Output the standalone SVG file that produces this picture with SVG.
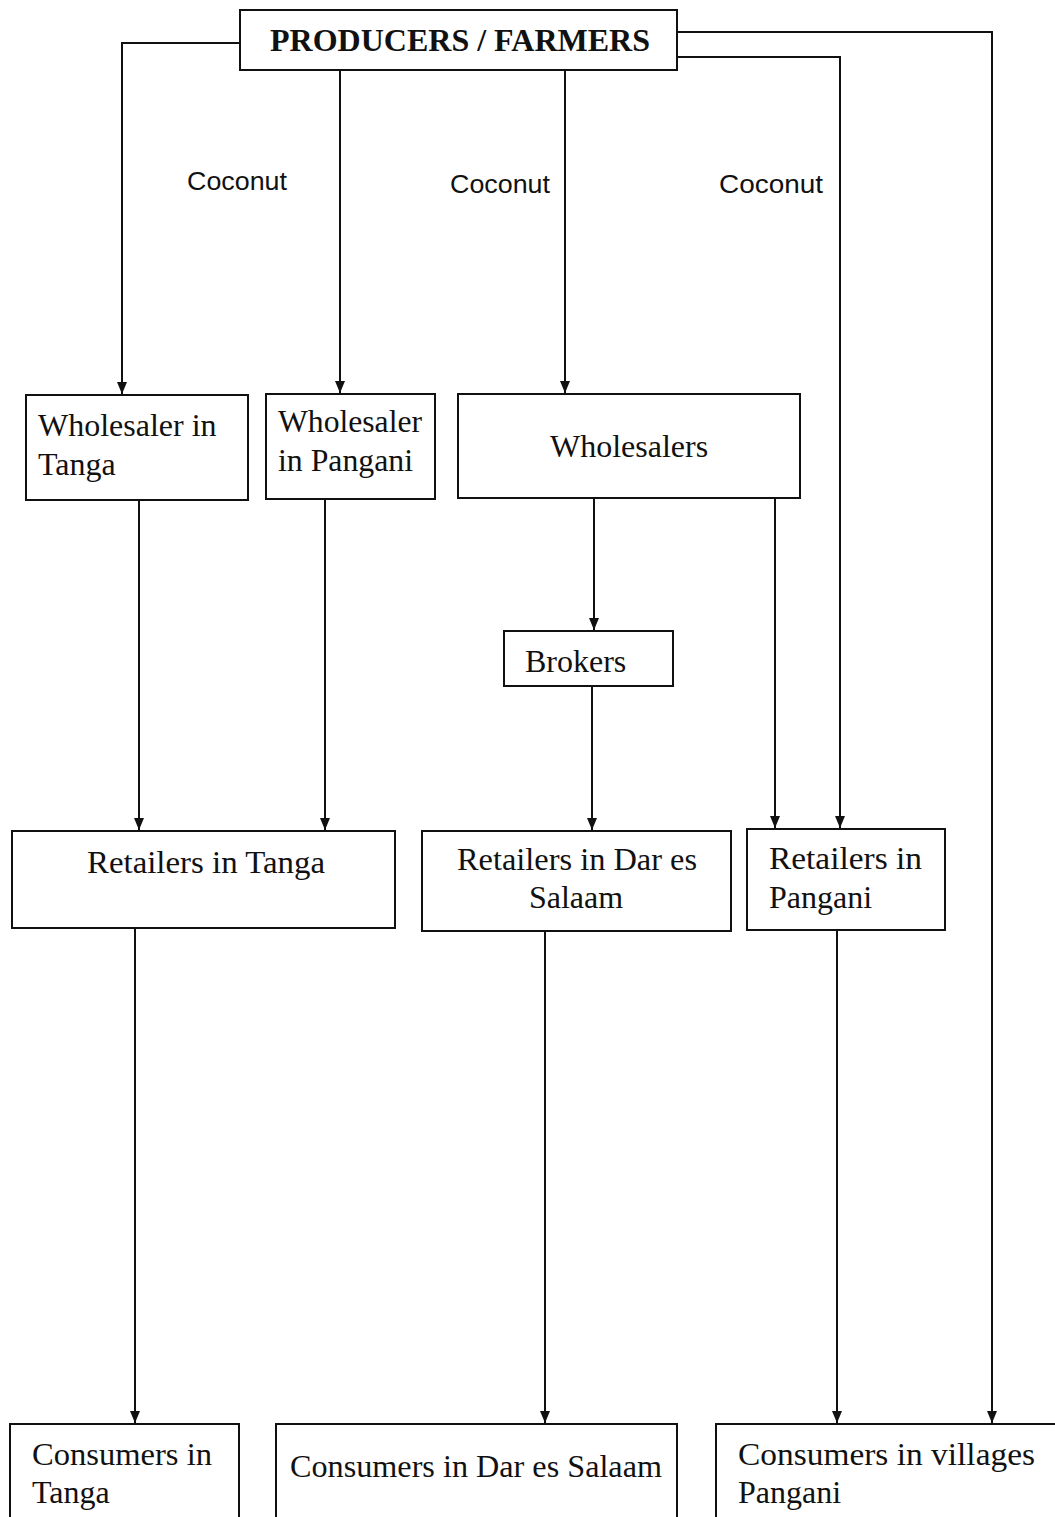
<svg xmlns="http://www.w3.org/2000/svg" width="1055" height="1517" viewBox="0 0 1055 1517">
<style>
.box{fill:#fff;stroke:#111;stroke-width:2}
.t{font-family:"Liberation Serif","Times New Roman",serif;font-size:32px;fill:#111}
.b{font-family:"Liberation Serif","Times New Roman",serif;font-size:31px;font-weight:bold;fill:#111}
.s{font-family:"Liberation Sans",Arial,sans-serif;font-size:26px;fill:#111}
.c{fill:none;stroke:#111;stroke-width:2}
</style>
<defs>
<marker id="ah" viewBox="0 0 12 10" refX="12" refY="5" markerWidth="12" markerHeight="10" markerUnits="userSpaceOnUse" orient="auto">
<path d="M0,0 L12,5 L0,10 Z" fill="#111"/>
</marker>
</defs>
<rect width="1055" height="1517" fill="#fff"/>
<g id="connectors">
<polyline class="c" points="240,43 122,43 122,394" marker-end="url(#ah)"/>
<line class="c" x1="340" y1="70" x2="340" y2="393" marker-end="url(#ah)"/>
<line class="c" x1="565" y1="70" x2="565" y2="393" marker-end="url(#ah)"/>
<polyline class="c" points="677,32 992,32 992,1423" marker-end="url(#ah)"/>
<polyline class="c" points="677,57 840,57 840,828" marker-end="url(#ah)"/>
<line class="c" x1="139" y1="500" x2="139" y2="830" marker-end="url(#ah)"/>
<line class="c" x1="325" y1="499" x2="325" y2="830" marker-end="url(#ah)"/>
<line class="c" x1="594" y1="498" x2="594" y2="630" marker-end="url(#ah)"/>
<line class="c" x1="775" y1="498" x2="775" y2="828" marker-end="url(#ah)"/>
<line class="c" x1="592" y1="686" x2="592" y2="830" marker-end="url(#ah)"/>
<line class="c" x1="135" y1="928" x2="135" y2="1423" marker-end="url(#ah)"/>
<line class="c" x1="545" y1="931" x2="545" y2="1423" marker-end="url(#ah)"/>
<line class="c" x1="837" y1="930" x2="837" y2="1423" marker-end="url(#ah)"/>
<text class="s" x="237" y="190" text-anchor="middle" textLength="100" lengthAdjust="spacingAndGlyphs">Coconut</text>
<text class="s" x="500" y="193" text-anchor="middle" textLength="100" lengthAdjust="spacingAndGlyphs">Coconut</text>
<text class="s" x="771" y="193" text-anchor="middle" textLength="104" lengthAdjust="spacingAndGlyphs">Coconut</text>
</g>
<g id="producers">
<rect class="box" x="240" y="10" width="437" height="60"/>
<text class="b" x="460" y="51" text-anchor="middle" textLength="380" lengthAdjust="spacingAndGlyphs">PRODUCERS / FARMERS</text>
</g>
<g id="wholesaler-tanga">
<rect class="box" x="26" y="395" width="222" height="105"/>
<text class="t" x="38" y="436">Wholesaler in</text>
<text class="t" x="38" y="475">Tanga</text>
</g>
<g id="wholesaler-pangani">
<rect class="box" x="266" y="394" width="169" height="105"/>
<text class="t" x="278" y="432" textLength="144" lengthAdjust="spacingAndGlyphs">Wholesaler</text>
<text class="t" x="278" y="471" textLength="135" lengthAdjust="spacingAndGlyphs">in Pangani</text>
</g>
<g id="wholesalers">
<rect class="box" x="458" y="394" width="342" height="104"/>
<text class="t" x="629" y="457" text-anchor="middle">Wholesalers</text>
</g>
<g id="brokers">
<rect class="box" x="504" y="631" width="169" height="55"/>
<text class="t" x="525" y="672">Brokers</text>
</g>
<g id="retailers-tanga">
<rect class="box" x="12" y="831" width="383" height="97"/>
<text class="t" x="206" y="873" text-anchor="middle" textLength="238" lengthAdjust="spacingAndGlyphs">Retailers in Tanga</text>
</g>
<g id="retailers-dar">
<rect class="box" x="422" y="831" width="309" height="100"/>
<text class="t" x="577" y="870" text-anchor="middle" textLength="240" lengthAdjust="spacingAndGlyphs">Retailers in Dar es</text>
<text class="t" x="576" y="908" text-anchor="middle">Salaam</text>
</g>
<g id="retailers-pangani">
<rect class="box" x="747" y="829" width="198" height="101"/>
<text class="t" x="769" y="869" textLength="153" lengthAdjust="spacingAndGlyphs">Retailers in</text>
<text class="t" x="769" y="908">Pangani</text>
</g>
<g id="consumers-tanga">
<rect class="box" x="10" y="1424" width="229" height="110"/>
<text class="t" x="32" y="1465" textLength="180" lengthAdjust="spacingAndGlyphs">Consumers in</text>
<text class="t" x="32" y="1503">Tanga</text>
</g>
<g id="consumers-dar">
<rect class="box" x="276" y="1424" width="401" height="110"/>
<text class="t" x="290" y="1477" textLength="372" lengthAdjust="spacingAndGlyphs">Consumers in Dar es Salaam</text>
</g>
<g id="consumers-pangani">
<rect class="box" x="716" y="1424" width="360" height="110"/>
<text class="t" x="738" y="1465" textLength="297" lengthAdjust="spacingAndGlyphs">Consumers in villages</text>
<text class="t" x="738" y="1503">Pangani</text>
</g>
</svg>
